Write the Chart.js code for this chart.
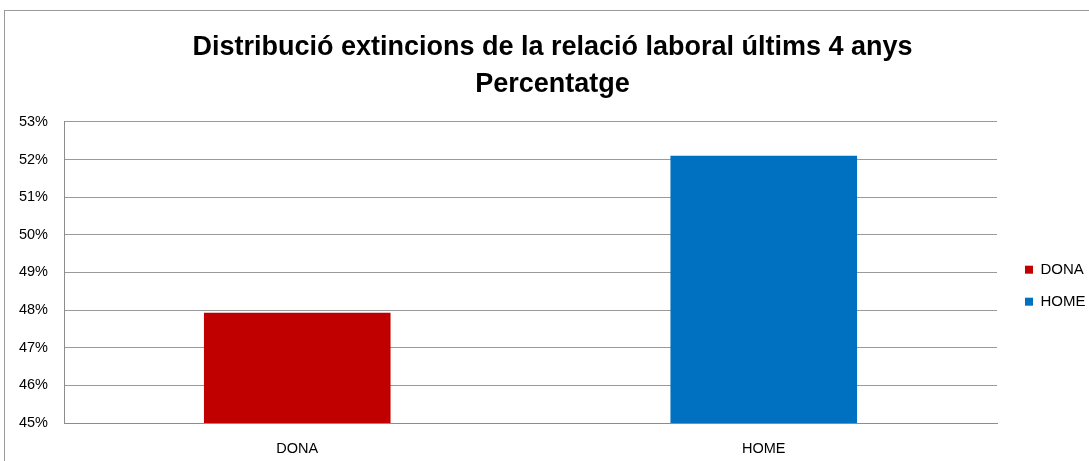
<!DOCTYPE html>
<html>
<head>
<meta charset="utf-8">
<script src="https://cdn.jsdelivr.net/npm/chart.js@4/dist/chart.umd.min.js"></script>
<style>
  html, body { margin: 0; padding: 0; background: #fff; }
  #wrap { position: relative; width: 1089px; height: 461px; overflow: hidden; }
  #frame { position: absolute; left: 4px; top: 10px; width: 1200px; height: 600px; border: 1px solid #9a9a9a; }
  #c { position: absolute; left: 0; top: 0; }
</style>
</head>
<body>
<div id="wrap">
  <div id="frame"></div>
  <canvas id="c" width="1089" height="461"></canvas>
</div>
<script>
const categories = ['DONA', 'HOME'];
const percentValues = [47.93, 52.1];
const barColors = ['#C00000', '#0070C0'];
const titleLines = ['Distribució extincions de la relació laboral últims 4 anys', 'Percentatge'];

const ctx = document.getElementById('c').getContext('2d');
new Chart(ctx, {
  type: 'bar',
  data: {
    labels: categories,
    datasets: [{
      label: 'Percentatge',
      data: percentValues,
      backgroundColor: barColors,
      barPercentage: 0.4,
      categoryPercentage: 1.0
    }]
  },
  options: {
    responsive: false,
    animation: false,
    layout: { padding: { left: 16, right: 0, top: 0, bottom: 0 } },
    plugins: {
      tooltip: { enabled: false },
      title: {
        display: true,
        text: titleLines,
        color: '#000',
        font: { family: 'Liberation Sans', size: 27, weight: 'bold', lineHeight: 1.37 },
        padding: { top: 29, bottom: 19 }
      },
      legend: {
        position: 'right',
        maxWidth: 81,
        // blank legend title only pushes the two entries down to mid height
        title: { display: true, text: ' ', font: { size: 12 }, padding: { top: 0, bottom: 96 } },
        labels: {
          color: '#000',
          font: { family: 'Liberation Sans', size: 15 },
          boxWidth: 8,
          boxHeight: 8,
          padding: 17,
          generateLabels: (chart) => categories.map((name, i) => ({
            text: name,
            fillStyle: barColors[i],
            strokeStyle: barColors[i],
            fontColor: '#000',
            lineWidth: 0,
            index: i
          }))
        }
      }
    },
    scales: {
      x: {
        grid: { display: false, drawTicks: false },
        border: { display: true, color: '#8c8c8c' },
        ticks: { color: '#000', font: { family: 'Liberation Sans', size: 14.5 }, padding: 17 },
        afterFit: (scale) => { scale.height = 38; }
      },
      y: {
        min: 45,
        max: 53,
        grid: { color: '#9a9a9a', drawTicks: false },
        border: { display: true, color: '#8c8c8c' },
        ticks: {
          stepSize: 1,
          color: '#000',
          font: { family: 'Liberation Sans', size: 14.5 },
          padding: 16,
          callback: (v) => v + '%'
        },
        afterFit: (scale) => { scale.width = 48; }
      },
      // empty right-hand scale, only keeps a gap between plot and legend
      gap: {
        position: 'right',
        min: 0,
        max: 1,
        grid: { display: false },
        border: { display: false },
        ticks: { display: false },
        afterFit: (scale) => { scale.width = 11; }
      }
    }
  }
});
</script>
</body>
</html>
